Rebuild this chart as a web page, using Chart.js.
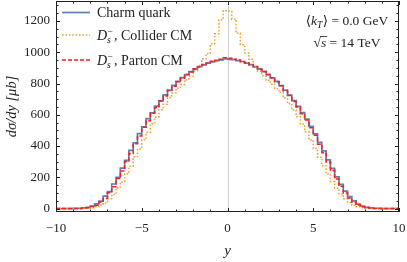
<!DOCTYPE html>
<html>
<head>
<meta charset="utf-8">
<script src="https://cdn.jsdelivr.net/npm/chart.js@4"></script>
<style>
  html, body { margin: 0; padding: 0; background: #fff; }
  #wrap { width: 407px; height: 262px; }
</style>
</head>
<body>
<div id="wrap"><canvas id="c"></canvas></div>
<script>
// rapidity bins: 80 bins of width 0.25 from -10 to 10
const yLo = -10;
const yHi = 10;
const binWidth = 0.25;

// dsigma/dy in microbarn, one value per bin (left to right)
const charmQuark = [0,0,0,0,1,1,4,8,15,30,47,79,108,157,200,259,308,372,421,480,523,575,612,656,689,728,756,789,812,838,857,877,892,908,919,931,939,947,951,957,
                    955,953,946,941,930,921,907,894,876,858,836,814,787,758,726,691,654,614,573,526,478,424,369,311,257,203,155,111,77,49,29,16,8,4,2,1,0,0,0,0];
const dsCollider = [0,0,0,0,0,0,1,2,5,10,22,36,64,90,132,170,223,271,331,381,440,488,543,585,633,667,710,739,770,793,823,846,880,915,958,992,1054,1118,1208,1266,
                    1262,1212,1122,1048,996,955,912,878,849,821,796,768,742,707,670,631,588,541,491,438,384,329,274,221,173,130,93,62,38,21,11,5,2,1,0,0,0,0,0,0];
const dsParton = [0,0,0,0,0,1,3,5,13,21,42,64,101,139,192,240,301,353,415,465,520,562,610,646,688,720,757,783,813,834,858,874,895,906,922,930,942,948,955,965,
                  962,956,950,940,933,920,909,892,877,856,837,811,786,754,723,685,650,607,566,517,469,412,357,298,244,189,142,99,67,40,23,12,6,3,1,0,0,0,0,0];

const xTicks = [-10, -5, 0, 5, 10];
const yTicks = [0, 200, 400, 600, 800, 1000, 1200];

const SERIF = '"Liberation Serif", "DejaVu Serif", serif';

// histogram -> step points at bin edges
function toSteps(vals) {
    const pts = vals.map((v, i) => ({ x: yLo + i * binWidth, y: v }));
    pts.push({ x: yHi, y: vals[vals.length - 1] });
    return pts;
}

const styles = [
    { color: '#5e81b5', width: 1.7, dash: [] },
    { color: '#eea22a', width: 1.5, dash: [1.6, 1.8] },
    { color: '#ff1a1a', width: 1.5, dash: [4, 2] }
];

// draw a line of mixed roman/italic text pieces
function drawRich(ctx, parts, x, y, align) {
    let total = 0;
    parts.forEach(p => {
        ctx.font = (p.i ? 'italic ' : '') + p.size + 'px ' + SERIF;
        p.w = ctx.measureText(p.t).width;
        if (!p.noAdvance) total += p.w + (p.dx || 0);
    });
    let cx = align === 'center' ? x - total / 2 : x;
    ctx.textBaseline = 'alphabetic';
    ctx.textAlign = 'left';
    parts.forEach(p => {
        ctx.font = (p.i ? 'italic ' : '') + p.size + 'px ' + SERIF;
        ctx.fillText(p.t, cx + (p.dx || 0), y + (p.dy || 0));
        if (p.bar) {
            ctx.fillRect(cx - 1, y - p.size * 0.8, p.w + 2, 0.8);
        }
        if (!p.noAdvance) cx += p.w + (p.dx || 0);
    });
}

const decorations = {
    id: 'decorations',
    beforeDatasetsDraw(chart) {
        const { ctx, chartArea: a, scales: { x } } = chart;
        const x0 = Math.round(x.getPixelForValue(0)) + 0.5;
        ctx.save();
        ctx.strokeStyle = '#cfcfcf';
        ctx.lineWidth = 1;
        ctx.beginPath();
        ctx.moveTo(x0, a.top);
        ctx.lineTo(x0, a.bottom);
        ctx.stroke();
        ctx.restore();
    },
    afterDraw(chart) {
        const { ctx, chartArea: a, scales: { x, y } } = chart;
        ctx.save();
        ctx.strokeStyle = '#222';
        ctx.lineWidth = 1;
        ctx.beginPath();
        // inward ticks on all four sides
        for (let v = yLo; v <= yHi; v += 1) {
            const px = Math.round(x.getPixelForValue(v)) + 0.5;
            const len = v % 5 === 0 ? 4 : 2.5;
            ctx.moveTo(px, a.bottom); ctx.lineTo(px, a.bottom - len);
            ctx.moveTo(px, a.top); ctx.lineTo(px, a.top + len);
        }
        for (let v = 0; v <= y.max; v += 50) {
            const py = Math.round(y.getPixelForValue(v)) + 0.5;
            const len = v % 200 === 0 ? 4 : 2.5;
            ctx.moveTo(a.left, py); ctx.lineTo(a.left + len, py);
            ctx.moveTo(a.right, py); ctx.lineTo(a.right - len, py);
        }
        ctx.stroke();
        ctx.strokeRect(a.left + 0.5, a.top + 0.5, a.width - 1, a.height - 1);

        // legend
        const rows = [
            { y: 12.5, parts: [{ t: 'Charm quark', size: 14 }] },
            { y: 35, parts: [{ t: 'D', i: true, size: 14 }, { t: 's', i: true, size: 9.5, dy: 3, noAdvance: true }, { t: '−', size: 9.5, dy: -5, dx: 0.5 }, { t: ', Collider CM', size: 14, dx: 1 }] },
            { y: 60, parts: [{ t: 'D', i: true, size: 14 }, { t: 's', i: true, size: 9.5, dy: 3, noAdvance: true }, { t: '−', size: 9.5, dy: -5, dx: 0.5 }, { t: ', Parton CM', size: 14, dx: 1 }] }
        ];
        rows.forEach((r, k) => {
            const s = styles[k];
            ctx.strokeStyle = s.color;
            ctx.lineWidth = s.width;
            ctx.setLineDash(s.dash);
            ctx.beginPath();
            ctx.moveTo(62, r.y);
            ctx.lineTo(90, r.y);
            ctx.stroke();
            ctx.setLineDash([]);
            ctx.fillStyle = '#222';
            drawRich(ctx, r.parts, 97, r.y + 4.5, 'left');
        });

        // annotation
        ctx.fillStyle = '#222';
        drawRich(ctx, [
            { t: '⟨', size: 13.5 }, { t: 'k', i: true, size: 13.5 }, { t: 'T', i: true, size: 9.5, dy: 3 },
            { t: '⟩ = 0.0 GeV', size: 13.5, dx: 0.5 }
        ], 347, 25, 'center');
        drawRich(ctx, [
            { t: '√', size: 13.5 }, { t: 's', i: true, size: 13.5, bar: true }, { t: ' = 14 TeV', size: 13.5 }
        ], 347, 47, 'center');
        ctx.restore();
    }
};

new Chart(document.getElementById('c'), {
    type: 'line',
    data: {
        datasets: [
            { label: 'Charm quark', data: toSteps(charmQuark), order: 3 },
            { label: 'Collider CM', data: toSteps(dsCollider), order: 2 },
            { label: 'Parton CM', data: toSteps(dsParton), order: 1 }
        ].map((d, k) => Object.assign(d, {
            stepped: true,
            borderColor: styles[k].color,
            borderWidth: styles[k].width,
            borderDash: styles[k].dash,
            pointRadius: 0,
            fill: false
        }))
    },
    options: {
        responsive: true,
        maintainAspectRatio: false,
        animation: false,
        layout: { padding: { top: 1, right: 8, left: 0, bottom: 0 } },
        plugins: { legend: { display: false }, tooltip: { enabled: false } },
        scales: {
            x: {
                type: 'linear',
                min: yLo,
                max: yHi,
                afterBuildTicks: s => { s.ticks = xTicks.map(v => ({ value: v })); },
                afterFit: s => { s.height = 50; s.paddingLeft = 0; s.paddingRight = 0; },
                grid: { display: false, drawTicks: false },
                border: { display: false },
                ticks: {
                    color: '#222',
                    padding: 9,
                    maxRotation: 0,
                    font: { family: SERIF, size: 13 },
                    callback: v => String(v).replace('-', '−')
                },
                title: {
                    display: true,
                    text: 'y',
                    color: '#222',
                    font: { family: SERIF, size: 15, style: 'italic' },
                    padding: { top: 0, bottom: 2 }
                }
            },
            y: {
                min: -22,
                max: 1328,
                afterBuildTicks: s => { s.ticks = yTicks.map(v => ({ value: v })); },
                afterFit: s => { s.width = 56; s.paddingTop = 0; s.paddingBottom = 0; },
                grid: { display: false, drawTicks: false },
                border: { display: false },
                ticks: {
                    color: '#222',
                    padding: 6,
                    font: { family: SERIF, size: 13 },
                    callback: v => String(v)
                },
                title: {
                    display: true,
                    text: 'dσ/dy [μb]',
                    color: '#222',
                    font: { family: SERIF, size: 14.5, style: 'italic' },
                    padding: { top: 3, bottom: 0 }
                }
            }
        }
    },
    plugins: [decorations]
});
</script>
</body>
</html>
